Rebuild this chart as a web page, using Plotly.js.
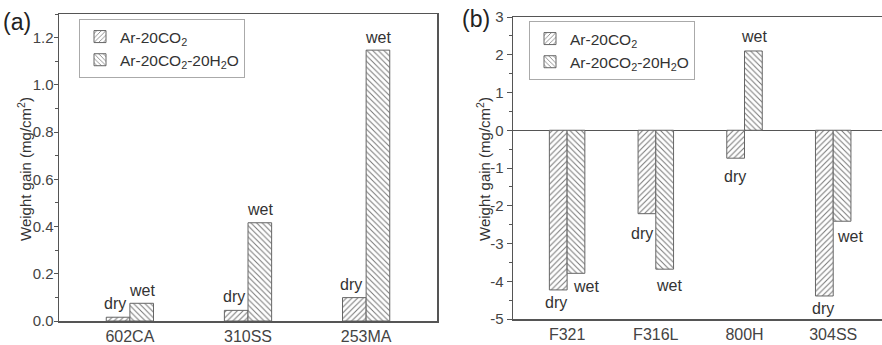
<!DOCTYPE html>
<html>
<head>
<meta charset="utf-8">
<script src="https://cdn.plot.ly/plotly-3.0.1.min.js"></script>
<style>html,body{margin:0;padding:0;background:#fff;}#chart{width:882px;height:345px;}</style>
</head>
<body>
<div id="chart"></div>
<script>
// ---- data ----
var categoriesA = ['602CA', '310SS', '253MA'];
var dryA = [0.016, 0.045, 0.099];
var wetA = [0.075, 0.416, 1.147];

var categoriesB = ['F321', 'F316L', '800H', '304SS'];
var dryB = [-4.23, -2.21, -0.74, -4.39];
var wetB = [-3.79, -3.68, 2.10, -2.41];

var seriesNames = ['Ar-20CO<sub>2</sub>', 'Ar-20CO<sub>2</sub>-20H<sub>2</sub>O'];
var labelDry = 'dry', labelWet = 'wet';
var yTitle = 'Weight gain (mg/cm<sup>2</sup>)';

// tick labels for panel (b) (hyphen-minus as in the original)
var tickValsB = [-5, -4, -3, -2, -1, 0, 1, 2, 3];
var tickTextB = ['-5', '-4', '-3', '-2', '-1', '0', '1', '2', '3'];

// ---- label pixel offsets (layout only) ----
var offA = { dry: [[-3, 3], [-2, 3], [-3, 3]], wet: [[0, 2], [0, 3], [0, 2]] };
var offB = { dry: [[-2, -2], [-5, -9], [-1, -8], [-1, -2]], wet: [[10, -3], [4, -6], [1, 4], [8, -5]] };

var FONT = 'Liberation Sans, Arial, sans-serif';
var TXT = '#333';
var AX = '#555';

function pat(shape) {
  return { color: '#fff', line: { color: '#666', width: 1 },
           pattern: { shape: shape, size: 4, solidity: 0.25, fgcolor: '#777', bgcolor: '#fff', fillmode: 'replace' } };
}

var traces = [
  { type: 'bar', x: categoriesA, y: dryA, name: seriesNames[0], marker: pat('/'), xaxis: 'x', yaxis: 'y', legend: 'legend', hoverinfo: 'none' },
  { type: 'bar', x: categoriesA, y: wetA, name: seriesNames[1], marker: pat('\\'), xaxis: 'x', yaxis: 'y', legend: 'legend', hoverinfo: 'none' },
  { type: 'bar', x: categoriesB, y: dryB, name: seriesNames[0], marker: pat('/'), xaxis: 'x2', yaxis: 'y2', legend: 'legend2', hoverinfo: 'none' },
  { type: 'bar', x: categoriesB, y: wetB, name: seriesNames[1], marker: pat('\\'), xaxis: 'x2', yaxis: 'y2', legend: 'legend2', hoverinfo: 'none' }
];

var annotations = [];
function addLabels(cats, vals, txt, side, offs, xr, yr) {
  vals.forEach(function (v, i) {
    annotations.push({
      xref: xr, yref: yr, x: i + side * 0.1, y: v, text: txt, showarrow: false,
      xanchor: 'center', yanchor: v >= 0 ? 'bottom' : 'top',
      xshift: offs[i][0], yshift: offs[i][1],
      font: { family: FONT, size: 16, color: TXT }
    });
  });
}
addLabels(categoriesA, dryA, labelDry, -1, offA.dry, 'x', 'y');
addLabels(categoriesA, wetA, labelWet, 1, offA.wet, 'x', 'y');
addLabels(categoriesB, dryB, labelDry, -1, offB.dry, 'x2', 'y2');
addLabels(categoriesB, wetB, labelWet, 1, offB.wet, 'x2', 'y2');

var titleFont = { family: FONT, size: 15, color: TXT };
annotations.push({ xref: 'paper', yref: 'paper', x: 1 / 882, y: 1 - 7 / 345, xanchor: 'left', yanchor: 'top', text: '(a)', showarrow: false, font: { family: FONT, size: 23, color: '#222' } });
annotations.push({ xref: 'paper', yref: 'paper', x: 460 / 882, y: 1 - 4 / 345, xanchor: 'left', yanchor: 'top', text: '(b)', showarrow: false, font: { family: FONT, size: 23, color: '#222' } });
annotations.push({ xref: 'paper', yref: 'paper', x: 24 / 882, y: 1 - 169 / 345, xanchor: 'center', yanchor: 'middle', textangle: -90, text: yTitle, showarrow: false, font: titleFont });
annotations.push({ xref: 'paper', yref: 'paper', x: 483 / 882, y: 1 - 169 / 345, xanchor: 'center', yanchor: 'middle', textangle: -90, text: yTitle, showarrow: false, font: titleFont });

var tickfont = { family: FONT, size: 15, color: '#444' };
var xtickfont = { family: FONT, size: 16, color: '#444' };
var legendStyle = { bgcolor: '#fff', bordercolor: '#aaa', borderwidth: 1, font: { family: FONT, size: 15.5, color: TXT },
  xanchor: 'left', yanchor: 'top', tracegroupgap: 0, itemwidth: 30 };

var layout = {
  width: 882, height: 345,
  margin: { l: 0, r: 0, t: 0, b: 0 },
  paper_bgcolor: '#fff', plot_bgcolor: '#fff',
  barmode: 'group', bargap: 0.6, bargroupgap: 0,
  showlegend: true,
  font: { family: FONT, color: TXT },
  xaxis: { domain: [59 / 882, 437 / 882], anchor: 'y', type: 'category', range: [-0.6, 2.6],
    showline: true, mirror: true, linecolor: AX, linewidth: 1.5, ticks: '', showgrid: false, zeroline: false,
    tickfont: xtickfont },
  yaxis: { domain: [24 / 345, 331 / 345], anchor: 'x', range: [0, 1.3], dtick: 0.2, tick0: 0, tickformat: '.1f',
    ticks: 'outside', ticklen: 4, tickcolor: AX, tickwidth: 1, ticklabelstandoff: -3,
    minor: { dtick: 0.1, ticks: 'outside', ticklen: 3, tickcolor: AX, showgrid: false },
    showline: true, mirror: true, linecolor: AX, linewidth: 1.5, showgrid: false, zeroline: false,
    tickfont: tickfont },
  xaxis2: { domain: [513 / 882, 1], anchor: 'y2', type: 'category', range: [-0.61, 3.55],
    showline: true, mirror: true, linecolor: AX, linewidth: 1.5, ticks: '', showgrid: false, zeroline: false,
    tickfont: xtickfont },
  yaxis2: { domain: [26 / 345, 328 / 345], anchor: 'x2', range: [-5, 3],
    tickmode: 'array', tickvals: tickValsB, ticktext: tickTextB,
    ticks: 'outside', ticklen: 5, tickcolor: AX, tickwidth: 1,
    minor: { tickmode: 'linear', tick0: 0, dtick: 0.5, ticks: 'outside', ticklen: 3, tickcolor: AX, showgrid: false },
    showline: true, mirror: false, linecolor: AX, linewidth: 1.5, showgrid: false,
    zeroline: true, zerolinecolor: AX, zerolinewidth: 1.5,
    tickfont: tickfont },
  legend: Object.assign({ x: 79 / 882, y: 1 - 19 / 345 }, legendStyle),
  legend2: Object.assign({ x: 529 / 882, y: 1 - 21 / 345 }, legendStyle),
  annotations: annotations
};

Plotly.newPlot('chart', traces, layout, { staticPlot: true, displayModeBar: false });
</script>
</body>
</html>
